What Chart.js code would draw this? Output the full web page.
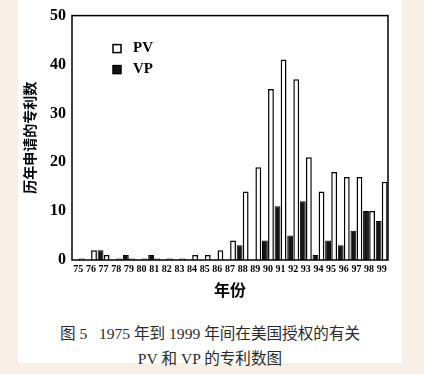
<!doctype html>
<html>
<head>
<meta charset="UTF-8">
<script src="https://cdn.jsdelivr.net/npm/chart.js@4.4.1/dist/chart.umd.min.js"></script>
<title>PV VP patents</title>
<style>
body{
	margin:0;
	background:#f8f0e6;
	width:424px;
	height:374px;
	overflow:hidden;
}
.sheet{
	position:absolute;
	left:18px;
	top:0;
	width:384px;
	height:363px;
	background:#fff;
}
#wrap{
	position:absolute;
	left:0;
	top:0;
	width:384px;
	height:300px;
}
.caption{
	position:absolute;
	left:0;
	width:384px;
	text-align:center;
	font-family:"Liberation Serif","Noto Sans CJK SC",serif;
	font-size:15.6px;
	color:#2a2a2a;
	white-space:pre;
}
</style>
</head>
<body>

<div class="sheet">
<div id="wrap"><canvas id="BarChart"></canvas></div>
<div class="caption" style="top:321px">图 5   1975 年到 1999 年间在美国授权的有关</div>
<div class="caption" style="top:346px">PV 和 VP 的专利数图</div>
</div>

<script>

// years 1975 - 1999
var years = ['75','76','77','78','79','80','81','82','83','84','85','86','87',
             '88','89','90','91','92','93','94','95','96','97','98','99'];

var pvCounts = [0.3, 2, 1, 0.3, 0.3, 0.3, 0.3, 0.3, 0.3, 1, 1, 2, 4,
                14, 19, 35, 41, 37, 21, 14, 18, 17, 17, 10, 16];

var vpCounts = [0, 0, 2, 0, 1, 0, 1, 0, 0, 0, 0, 0, 0,
                3, 0, 4, 11, 5, 12, 1, 4, 3, 6, 10, 8];

var yTicks = [0, 10, 20, 30, 40, 50];

var serif = "'Liberation Serif', 'Noto Sans CJK SC', serif";
var cjk = "'Noto Sans CJK SC', sans-serif";

// frame round the plot + legend in the upper left
var framePlugin = {
  id: 'frame',
  afterDraw: function(chart) {
    var ctx = chart.ctx;
    var a = chart.chartArea;
    ctx.save();
    ctx.strokeStyle = '#000';
    ctx.lineWidth = 1.5;
    ctx.strokeRect(a.left, a.top, a.right - a.left, a.bottom - a.top);

    // PV first, VP second, as in the original
    var order = [1, 0];
    ctx.font = "bold 15px " + serif;
    ctx.textBaseline = 'middle';
    ctx.fillStyle = '#000';
    for (var i = 0; i < order.length; i++) {
      var ds = chart.data.datasets[order[i]];
      var bx = a.left + 41;
      var by = a.top + 29 + i * 21;
      ctx.fillStyle = ds.backgroundColor;
      ctx.fillRect(bx, by, 8, 8);
      ctx.lineWidth = 1.5;
      ctx.strokeStyle = '#000';
      ctx.strokeRect(bx, by, 8, 8);
      ctx.fillStyle = '#000';
      ctx.fillText(ds.label, a.left + 61, by + 4);
    }
    ctx.restore();
  }
};

var ctx = document.getElementById("BarChart");
var BarChart = new Chart(ctx, {
  type: 'bar',
  data: {
    labels: years,
    datasets: [{
        label: 'VP',
        data: vpCounts,
        backgroundColor: '#151515',
        borderColor: '#000',
        borderWidth: 1,
        categoryPercentage: 0.96,
        barPercentage: 0.96
      }, {
        label: 'PV',
        data: pvCounts,
        backgroundColor: '#ffffff',
        borderColor: '#000',
        borderWidth: 1.5,
        categoryPercentage: 0.96,
        barPercentage: 0.96
      }
    ]
  },
  options: {
    responsive: true,
    maintainAspectRatio: false,
    animation: false,
    layout: { padding: { left: 0, right: 14, top: 14, bottom: 0 } },
    plugins: {
      legend: { display: false },
      tooltip: { enabled: false }
    },
    scales: {
      x: {
        grid: { display: false, drawTicks: false },
        border: { display: false },
        ticks: {
          color: '#000',
          padding: 3,
          maxRotation: 0,
          autoSkip: false,
          font: { family: serif, size: 10, weight: 'bold' }
        },
        title: {
          display: true,
          text: '年份',
          color: '#000',
          padding: 0,
          font: { family: cjk, size: 16, weight: 'bold', lineHeight: 1.25 }
        },
        afterFit: function(scale) { scale.height = 40; }
      },
      y: {
        min: 0,
        max: 50,
        grid: { display: false, drawTicks: false },
        border: { display: false },
        afterBuildTicks: function(scale) {
          scale.ticks = yTicks.map(function(v) { return { value: v }; });
        },
        ticks: {
          color: '#000',
          padding: 6,
          font: { family: serif, size: 16, weight: 'bold' }
        },
        title: {
          display: true,
          text: '历年申请的专利数',
          color: '#000',
          padding: 3,
          font: { family: cjk, size: 14, weight: 'bold' }
        },
        afterFit: function(scale) { scale.width = 54; }
      }
    }
  },
  plugins: [framePlugin]
});

</script>

</body>
</html>
